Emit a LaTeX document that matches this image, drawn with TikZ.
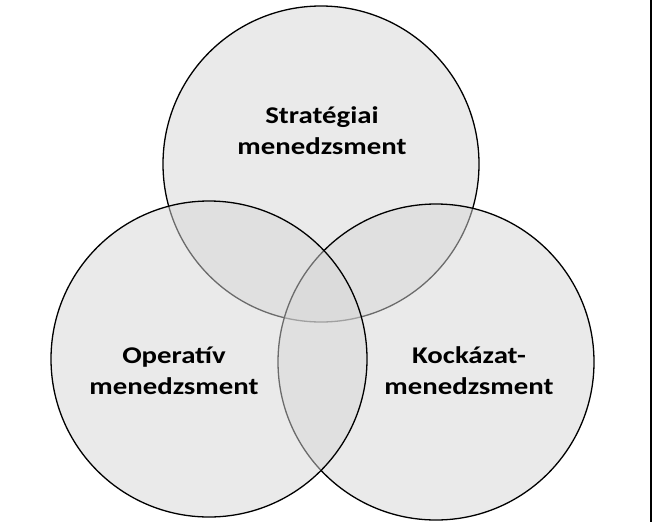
\documentclass[tikz,border=0pt]{standalone}
\usepackage{fontspec}
\setmainfont{Carlito}[FakeStretch=1.2]
\usepackage{tikz}

\begin{document}
\begin{tikzpicture}[x=1pt,y=-1pt,
  venn/.style={circle,draw=black,line width=1.3pt,fill=black!16,fill opacity=0.5,draw opacity=1,minimum size=316pt,inner sep=0pt},
  label/.style={align=center,font=\fontsize{24}{31}\selectfont\bfseries,inner sep=0pt,anchor=base}]
\useasboundingbox (0,0) rectangle (652,522);

% Right edge bar
\fill[black] (649.5,0) rectangle (652,522);

% Circles
\node[venn] (strat) at (321,164) {};
\node[venn] (kock) at (436,362) {};
\node[venn] (oper) at (209,359) {};

% Labels
\node[label] (stratlabel) at (322,154) {Stratégiai\\menedzsment};
\node[label] (operlabel) at (174,394) {Operatív\\menedzsment};
\node[label] (kocklabel) at (469,394) {Kockázat-\\menedzsment};
\end{tikzpicture}
\end{document}
